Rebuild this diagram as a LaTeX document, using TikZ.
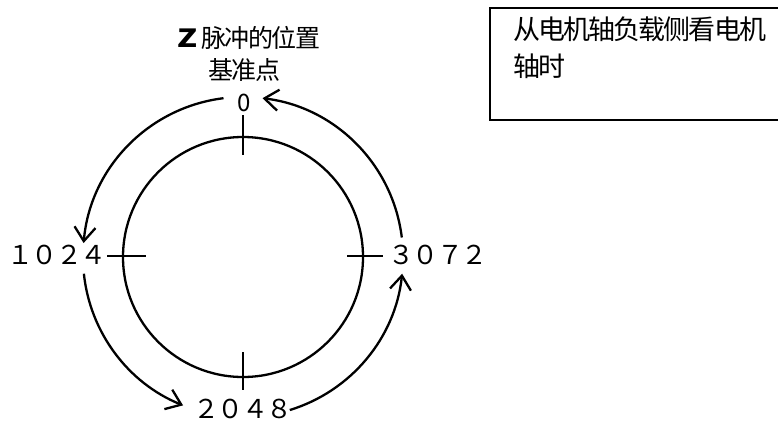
\documentclass[tikz,border=0pt]{standalone}
\usepackage{graphicx}
\usepackage{fontspec}
\setmainfont{Noto Sans CJK SC}
\newfontfamily\cjktitle[LetterSpace=-6]{Noto Sans CJK SC}
\newfontfamily\cjkbox[LetterSpace=-7]{Noto Sans CJK SC}
\newfontfamily\cjknum[LetterSpace=-6]{Noto Sans CJK SC}
\usetikzlibrary{arrows.meta,calc}
\begin{document}
\begin{tikzpicture}[x=1pt,y=1pt,
  ring/.style={line width=2.3pt},
  tick/.style={line width=2.3pt},
  arr/.style={line width=2.3pt,-{Straight Barb[length=14pt,width=21pt,line width=2.3pt]}},
  numlab/.style={inner sep=0pt,anchor=base,text depth=0pt,font=\cjknum\fontsize{26}{26}\selectfont},
  titlelab/.style={inner sep=0pt,font=\cjktitle\fontsize{25}{25}\selectfont},
  infobox/.style={draw,line width=1.8pt}]
\useasboundingbox (0,0) rectangle (778,-423);
\coordinate (C) at (243,-257);
% circle
\draw[ring] (C) circle[radius=120];
% ticks
\draw[tick] (243,-115) -- (243,-155);
\draw[tick] (243,-352) -- (243,-390);
\draw[tick] (107,-256) -- (146,-256);
\draw[tick] (347,-256) -- (383,-256);
% labels
\node[titlelab,anchor=west] (t1) at (177,-38) {\scalebox{1.3}[1]{\bfseries Z}\hspace{4pt}脉冲的位置};
\node[titlelab] (t2) at (244,-70) {基准点};
\node[inner sep=0pt,font=\fontsize{24}{24}\selectfont] (n0) at (244,-103) {0};
\node[numlab] (n1024) at (57,-264) {１０２４};
\node[numlab] (n3072) at (438,-264) {３０７２};
\node[numlab] (n2048) at (243,-418) {２０４８};
% arcs
\coordinate (a1s) at ($(C)+(97:160)$);
\coordinate (a2s) at ($(C)+(186:160)$);
\coordinate (a3s) at ($(C)+(287:160)$);
\coordinate (a4s) at ($(C)+(7:160)$);
\draw[arr] (a1s) arc[start angle=97,end angle=175,radius=160];
\draw[arr] (a2s) arc[start angle=186,end angle=248,radius=160];
\draw[arr] (a3s) arc[start angle=287,end angle=354,radius=160];
\draw[arr] (a4s) arc[start angle=7,end angle=83,radius=160];
% info box
\draw[infobox] (490,-8) rectangle (780,-120);
\node[anchor=north west,inner sep=0pt,align=left,font=\cjkbox\fontsize{27}{37}\selectfont] (info) at (513,-17) {从电机轴负载侧看电机\\轴时};
\end{tikzpicture}
\end{document}
